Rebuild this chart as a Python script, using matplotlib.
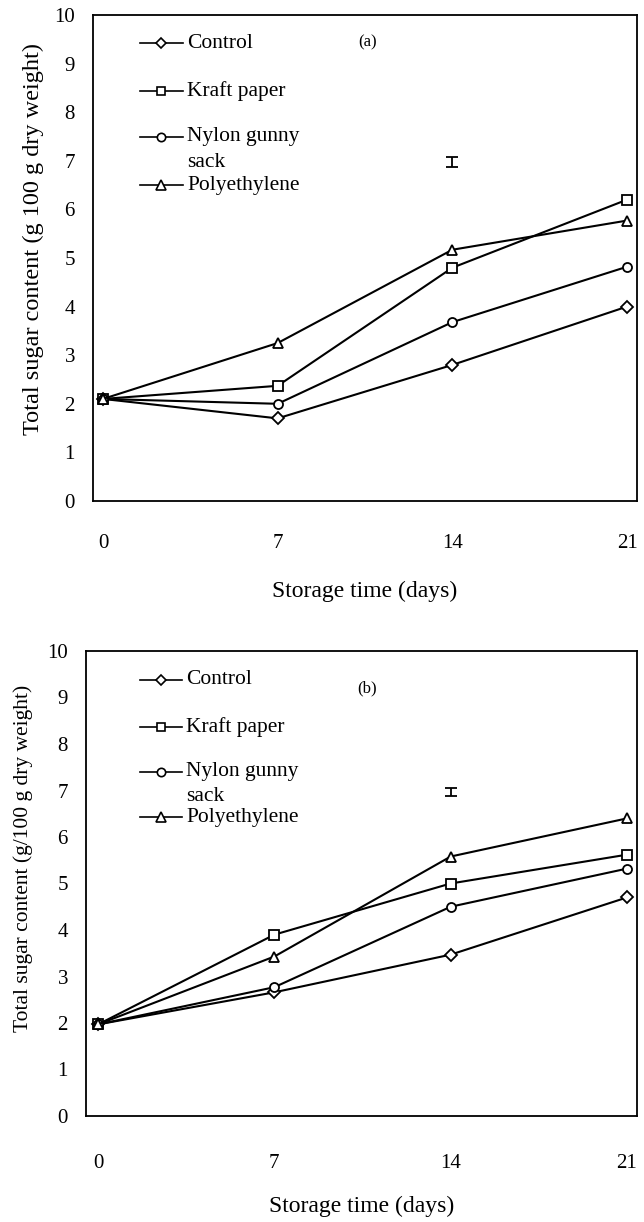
import matplotlib
matplotlib.use("Agg")
import matplotlib.pyplot as plt

plt.rcParams['font.family'] = ['Liberation Serif', 'DejaVu Serif']

days = [0, 7, 14, 21]
series_names = ["Control", "Kraft paper", "Nylon gunny\nsack", "Polyethylene"]
markers = ["D", "s", "o", "^"]

# Panel (a)
a_control = [2.1, 1.7, 2.8, 4.0]
a_kraft = [2.1, 2.37, 4.8, 6.2]
a_nylon = [2.1, 2.0, 3.68, 4.82]
a_poly = [2.1, 3.25, 5.17, 5.77]
a_err_pos = (14, 6.97)
a_err = 0.1

# Panel (b)
b_control = [1.97, 2.66, 3.47, 4.7]
b_kraft = [1.97, 3.9, 5.0, 5.62]
b_nylon = [1.97, 2.77, 4.5, 5.32]
b_poly = [1.97, 3.43, 5.58, 6.4]
b_err_pos = (14, 6.97)
b_err = 0.08

yticks = list(range(0, 11))

fig = plt.figure(figsize=(6.44, 12.22), dpi=100)
ax1 = fig.add_axes([93 / 644, 1 - 501 / 1222, 544 / 644, 486 / 1222])
ax2 = fig.add_axes([86 / 644, 1 - 1116 / 1222, 551 / 644, 465 / 1222])

msizes = [6, 6.5, 6.5, 7]

def draw(ax, data, err_pos, err, tag, ylabel, ylab_size, ylab_coords, leg_x,
         leg_ys, sack_y, tag_pos, xlo, xpad, xlabpad):
    for vals, m, ms in zip(data, markers, msizes):
        ax.plot(days, vals, color='black', lw=1.5, marker=m, ms=ms,
                mfc='white', mec='black', mew=1.3, zorder=3)
    ax.errorbar([err_pos[0]], [err_pos[1]], yerr=[err], fmt='none',
                ecolor='black', elinewidth=1.3, capsize=4, capthick=1.3)
    ax.set_xlim(xlo, 21.4)
    ax.set_ylim(0, 10)
    ax.set_xticks(days)
    ax.set_xticklabels([str(d) for d in days])
    ax.set_yticks(yticks)
    ax.tick_params(axis='both', length=0, labelsize=15)
    ax.tick_params(axis='x', pad=xpad)
    ax.tick_params(axis='y', pad=13)
    for s in ax.spines.values():
        s.set_linewidth(1.3)
    ax.set_xlabel("Storage time (days)", fontsize=17, labelpad=xlabpad)
    ax.set_ylabel(ylabel, fontsize=ylab_size)
    ax.yaxis.set_label_coords(*ylab_coords)
    # legend (drawn manually)
    for name, m, ms, y in zip(series_names, markers, msizes, leg_ys):
        ax.plot([leg_x[0], leg_x[1]], [y, y], transform=ax.transAxes,
                color='black', lw=1.2, clip_on=False)
        ax.plot([(leg_x[0] + leg_x[1]) / 2], [y], transform=ax.transAxes,
                marker=m, ms=ms - 0.5, mfc='white', mec='black', mew=1.2)
        label = name.split("\n")[0]
        ax.text(leg_x[1] + 0.008, y, label, transform=ax.transAxes,
                fontsize=15.5, va='center', ha='left')
    ax.text(leg_x[1] + 0.008, sack_y, "sack", transform=ax.transAxes,
            fontsize=15.5, va='center', ha='left')
    ax.text(tag_pos[0], tag_pos[1], tag, transform=ax.transAxes,
            fontsize=12, va='center', ha='center')

draw(ax1, [a_control, a_kraft, a_nylon, a_poly], a_err_pos, a_err, "(a)",
     "Total sugar content (g 100 g dry weight)", 17.5, (-0.09, 0.54),
     (0.086, 0.165), [0.942, 0.844, 0.749, 0.650], 0.697, (0.504, 0.944), -0.4, 24, 20)
draw(ax2, [b_control, b_kraft, b_nylon, b_poly], b_err_pos, b_err, "(b)",
     "Total sugar content (g/100 g dry weight)", 15.5, (-0.096, 0.553),
     (0.098, 0.174), [0.938, 0.837, 0.740, 0.643], 0.688, (0.510, 0.920), -0.48, 27, 17)

fig.savefig("out.png", dpi=100)
